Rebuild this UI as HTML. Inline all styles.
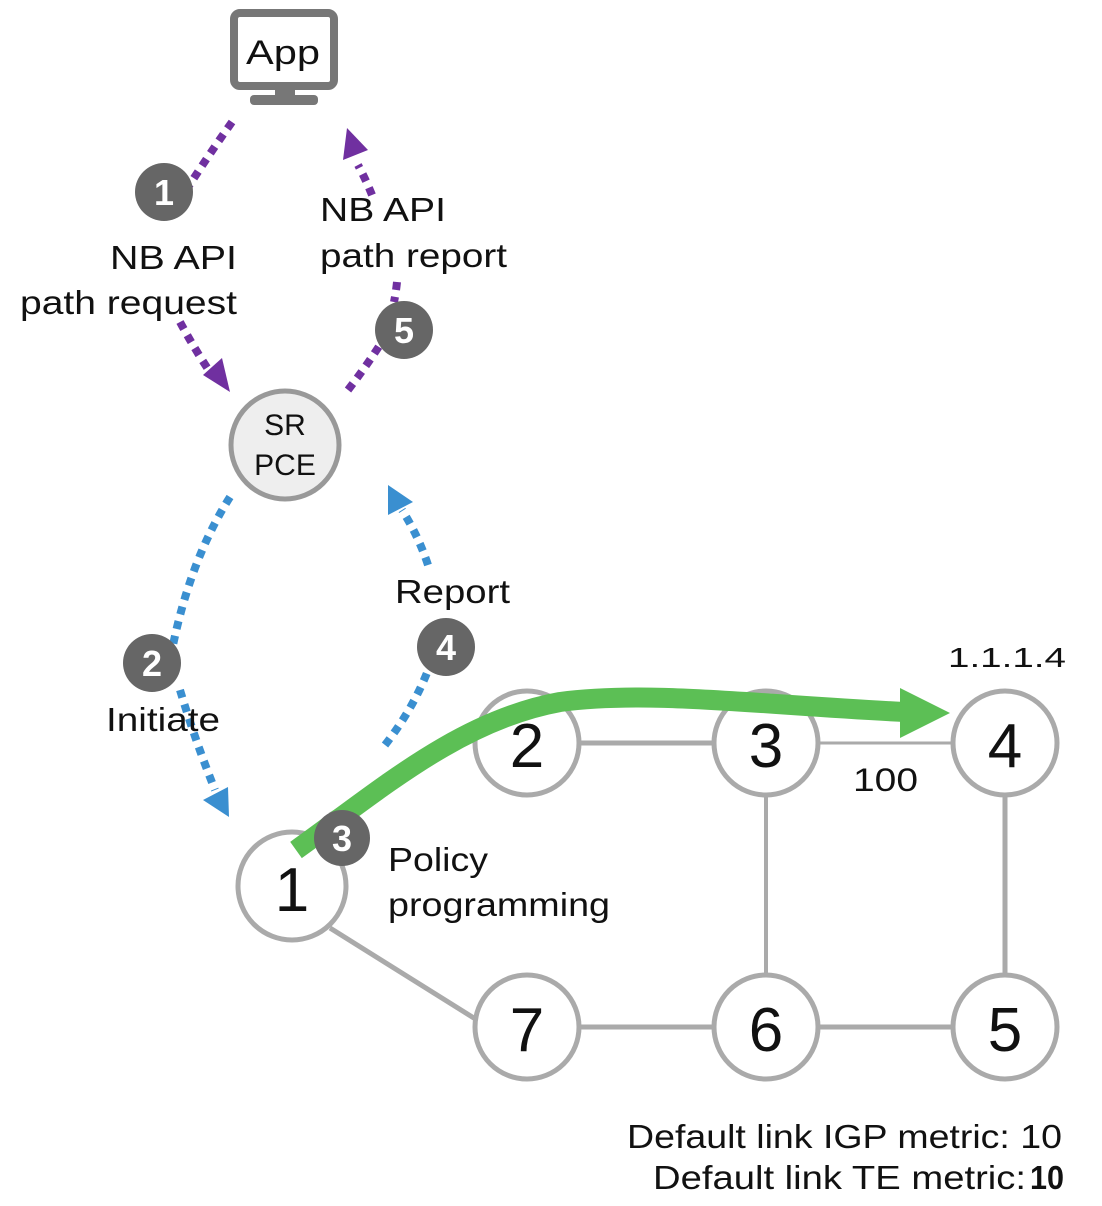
<!DOCTYPE html>
<html><head><meta charset="utf-8"><style>
html,body{margin:0;padding:0;background:#fff;}
svg{display:block;}
text{font-family:"Liberation Sans",Arial,sans-serif;}
</style></head><body>
<svg width="1102" height="1206" viewBox="0 0 1102 1206" xmlns="http://www.w3.org/2000/svg">
<!-- App monitor -->
<rect x="234" y="13" width="100" height="73" rx="6" fill="#fff" stroke="#777" stroke-width="8"/>
<rect x="275" y="86" width="20" height="12" fill="#777"/>
<rect x="250" y="95" width="68" height="10" rx="4" fill="#777"/>
<text x="283" y="64" font-size="34" text-anchor="middle" fill="#111" textLength="74" lengthAdjust="spacingAndGlyphs">App</text>

<!-- purple dashed -->
<g fill="none" stroke="#7030a0" stroke-width="8" stroke-dasharray="8,7">
<path d="M232,122 Q205,160 180,200"/>
<path d="M180,322 Q195,350 212,375"/>
<path d="M348,390 Q375,355 395,320"/>
<path d="M397,282 Q396,292 394,302"/>
<path d="M372,195 Q366,180 358,165"/>
</g>
<polygon points="230,392 203,375 222,358" fill="#7030a0"/>
<polygon points="347,128 343,160 368,150" fill="#7030a0"/>

<!-- blue dashed -->
<g fill="none" stroke="#3a8fd0" stroke-width="8" stroke-dasharray="8,7">
<path d="M230,497 Q190,560 172,650"/>
<path d="M180,690 Q195,740 215,790"/>
<path d="M385,745 Q420,700 435,650"/>
<path d="M428,565 Q418,535 402,510"/>
</g>
<polygon points="229,817 203,800 228,787" fill="#3a8fd0"/>
<polygon points="388,485 388,515 413,502" fill="#3a8fd0"/>

<!-- links -->
<g stroke="#aaa" stroke-width="5" fill="none">
<line x1="330" y1="815" x2="490" y2="725"/>
<line x1="579" y1="743" x2="714" y2="743"/>
<line x1="818" y1="743" x2="953" y2="743" stroke-width="3"/>
<line x1="766" y1="795" x2="766" y2="975" stroke-width="4"/>
<line x1="1005" y1="795" x2="1005" y2="975"/>
<line x1="330" y1="928" x2="485" y2="1025"/>
<line x1="579" y1="1027" x2="714" y2="1027"/>
<line x1="818" y1="1027" x2="953" y2="1027"/>
</g>

<!-- SR PCE -->
<circle cx="285" cy="445" r="54" fill="#eee" stroke="#999" stroke-width="5"/>
<text x="285" y="435" font-size="30" text-anchor="middle" fill="#111">SR</text>
<text x="285" y="475" font-size="30" text-anchor="middle" fill="#111">PCE</text>

<!-- nodes -->
<g fill="#fff" stroke="#aaa" stroke-width="5">
<circle cx="292" cy="886" r="54"/>
<circle cx="527" cy="743" r="52"/>
<circle cx="766" cy="743" r="52"/>
<circle cx="1005" cy="743" r="52"/>
<circle cx="527" cy="1027" r="52"/>
<circle cx="766" cy="1027" r="52"/>
<circle cx="1005" cy="1027" r="52"/>
</g>
<g font-size="62" text-anchor="middle" fill="#111">
<text x="292" y="911">1</text>
<text x="527" y="767">2</text>
<text x="766" y="767">3</text>
<text x="1005" y="767">4</text>
<text x="527" y="1051">7</text>
<text x="766" y="1051">6</text>
<text x="1005" y="1051">5</text>
</g>

<!-- green path -->
<path d="M296,850 C380,790 460,720 560,702 C650,690 760,705 905,712" fill="none" stroke="#5cbf55" stroke-width="20"/>
<polygon points="900,688 950,713 900,738" fill="#5cbf55"/>

<!-- badges -->
<g fill="#666">
<circle cx="164" cy="192" r="29"/>
<circle cx="404" cy="330" r="29"/>
<circle cx="152" cy="663" r="29"/>
<circle cx="446" cy="647" r="29"/>
<circle cx="342" cy="838" r="28"/>
</g>
<g font-size="36" font-weight="bold" text-anchor="middle" fill="#fff">
<text x="164" y="205">1</text>
<text x="404" y="343">5</text>
<text x="152" y="676">2</text>
<text x="446" y="660">4</text>
<text x="342" y="851">3</text>
</g>

<!-- labels -->
<g font-size="33" fill="#111" lengthAdjust="spacingAndGlyphs">
<text x="110" y="269" textLength="127" lengthAdjust="spacingAndGlyphs">NB API</text>
<text x="20" y="314" textLength="217" lengthAdjust="spacingAndGlyphs">path request</text>
<text x="320" y="221" textLength="126" lengthAdjust="spacingAndGlyphs">NB API</text>
<text x="320" y="267" textLength="187" lengthAdjust="spacingAndGlyphs">path report</text>
<text x="395" y="603" textLength="115" lengthAdjust="spacingAndGlyphs">Report</text>
<text x="106" y="731" textLength="114" lengthAdjust="spacingAndGlyphs">Initiate</text>
<text x="388" y="871" textLength="100" lengthAdjust="spacingAndGlyphs">Policy</text>
<text x="388" y="916" textLength="222" lengthAdjust="spacingAndGlyphs">programming</text>
<text x="627" y="1148" textLength="435" lengthAdjust="spacingAndGlyphs">Default link IGP metric: 10</text>
<text x="653" y="1189" textLength="373" lengthAdjust="spacingAndGlyphs">Default link TE metric:</text>
<text x="1030" y="1189" font-weight="bold" font-family="Liberation Mono, monospace" textLength="34" lengthAdjust="spacingAndGlyphs">10</text>
</g>
<text x="948" y="667" font-size="28" fill="#111" textLength="118" lengthAdjust="spacingAndGlyphs">1.1.1.4</text>
<text x="853" y="791" font-size="32" fill="#111" textLength="65" lengthAdjust="spacingAndGlyphs">100</text>
</svg>
</body></html>
